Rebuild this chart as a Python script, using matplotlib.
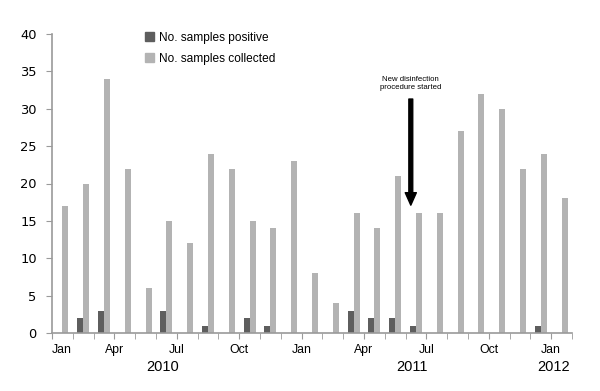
import matplotlib
matplotlib.use("Agg")
import matplotlib.pyplot as plt
from matplotlib.patches import Patch
import numpy as np

months = ["Jan 2010", "Feb 2010", "Mar 2010", "Apr 2010", "May 2010", "Jun 2010",
          "Jul 2010", "Aug 2010", "Sep 2010", "Oct 2010", "Nov 2010", "Dec 2010",
          "Jan 2011", "Feb 2011", "Mar 2011", "Apr 2011", "May 2011", "Jun 2011",
          "Jul 2011", "Aug 2011", "Sep 2011", "Oct 2011", "Nov 2011", "Dec 2011",
          "Jan 2012"]
positive = [0, 2, 3, 0, 0, 3, 0, 1, 0, 2, 1, 0,
            0, 0, 3, 2, 2, 1, 0, 0, 0, 0, 0, 1, 0]
collected = [17, 20, 34, 22, 6, 15, 12, 24, 22, 15, 14, 23,
             8, 4, 16, 14, 21, 16, 16, 27, 32, 30, 22, 24, 18]
tick_labels = ["Jan", "Apr", "Jul", "Oct", "Jan", "Apr", "Jul", "Oct", "Jan"]
years = ["2010", "2011", "2012"]

dark = "#5e5e5e"
light = "#b3b3b3"
axis_col = "#9a9a9a"

fig = plt.figure(figsize=(6.0, 3.91), dpi=100)
ax = fig.add_axes([52 / 600, 1 - 333 / 391, 520 / 600, 299 / 391])

x = np.arange(len(months))
w = 0.29
ax.bar(x - w / 2, positive, width=w, color=dark)
ax.bar(x + w / 2, collected, width=w, color=light)

ax.set_xlim(-0.5, len(months) - 0.5)
ax.set_ylim(0, 40)
ax.set_yticks(range(0, 41, 5))
ax.tick_params(axis="y", length=4, color=axis_col, labelsize=9.4, pad=7)
for lab in ax.get_yticklabels():
    lab.set_fontfamily("DejaVu Sans")

# boundaries between months
ax.set_xticks(np.arange(-0.5, len(months)), minor=True)
ax.set_xticks(np.arange(-0.5, len(months), 3))
ax.set_xticklabels(tick_labels, fontfamily="Liberation Sans", fontsize=8.8)
ax.tick_params(axis="x", which="both", length=4, color=axis_col, pad=4)
ax.get_xticklabels()[0].set_horizontalalignment("left")
ax.get_xticklabels()[0].set_x(-0.65)

for s in ["top", "right"]:
    ax.spines[s].set_visible(False)
for s in ["left", "bottom"]:
    ax.spines[s].set_color(axis_col)
    ax.spines[s].set_linewidth(1.2)

for yr, xp in zip(years, [4.84, 16.8, 23.6]):
    ax.text(xp, -0.114, yr, transform=ax.get_xaxis_transform(), ha="center",
            va="center", fontsize=10.5, fontfamily="Liberation Sans")

handles = [Patch(color=dark, label="No. samples positive"),
           Patch(color=light, label="No. samples collected")]
ax.legend(handles=handles, loc="upper left", bbox_to_anchor=(0.162, 1.035),
          frameon=False, handlelength=0.75, handleheight=0.75, handletextpad=0.45,
          labelspacing=0.75, borderpad=0.2,
          prop={"family": "Liberation Sans", "size": 8.6})

ax.annotate("", xy=(16.75, 17.1), xytext=(16.75, 31.3),
            arrowprops=dict(facecolor="black", edgecolor="black", width=2.8,
                            headwidth=8, headlength=9, shrink=0))
ax.text(16.75, 33.4, "New disinfection\nprocedure started", ha="center", va="center",
        fontsize=5.6, fontfamily="Liberation Sans", linespacing=1.1)

fig.savefig("out.png", dpi=100)
